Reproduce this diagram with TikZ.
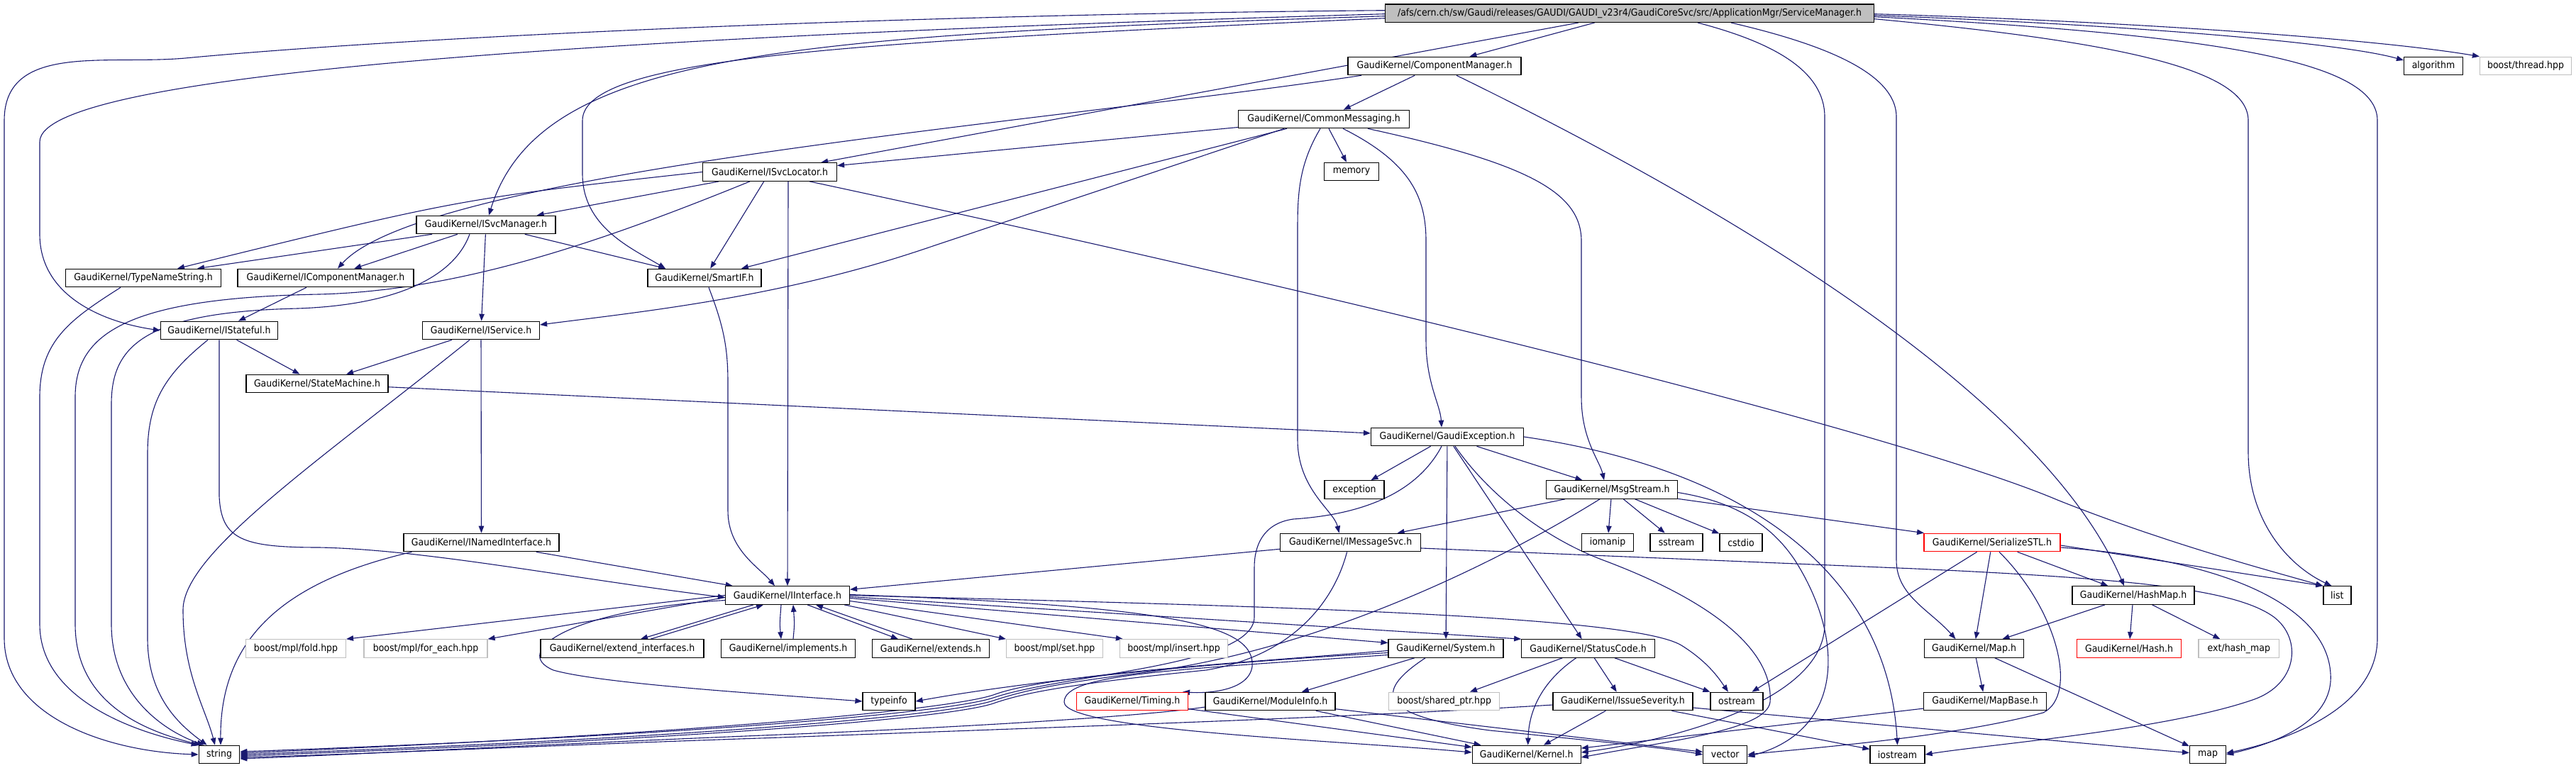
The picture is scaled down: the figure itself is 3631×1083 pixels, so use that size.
\documentclass[tikz,border=0pt]{standalone}
\usepackage{fontspec}
\newfontfamily\nf{DejaVu Sans}[FakeStretch=0.915]
\usetikzlibrary{arrows.meta}
\definecolor{edgeblue}{HTML}{191970}
\definecolor{extgray}{HTML}{BFBFBF}
\definecolor{maingray}{HTML}{BFBFBF}
\definecolor{redb}{HTML}{FF0000}
\pgfdeclarelayer{bglayer}
\pgfdeclarelayer{edgelayer}
\pgfsetlayers{bglayer,edgelayer,main}
\begin{document}
\begin{tikzpicture}[x=1pt,y=-1pt,
  box/.style={draw=black,line width=1.2pt,fill=white,minimum height=25.5pt,inner sep=0pt,font=\nf\fontsize{13.7pt}{16pt}\selectfont},
  gbox/.style={box,draw=extgray},
  rbox/.style={box,draw=redb},
  ln/.style={draw=edgeblue,line width=1.1pt,-{Triangle[length=10pt,width=7.5pt]}}]
\begin{pgfonlayer}{bglayer}
\fill[white] (0,0) rectangle (3631,1083);
\end{pgfonlayer}
\useasboundingbox (0,0) rectangle (3631,1083);
% nodes
\node[box,fill=maingray,minimum width=689pt] (main) at (2297,18.7) {/afs/cern.ch/sw/Gaudi/releases/GAUDI/GAUDI\_v23r4/GaudiCoreSvc/src/ApplicationMgr/ServiceManager.h};
\node[box,minimum width=244pt] (CM) at (2022,93) {GaudiKernel/ComponentManager.h};
\node[box,minimum width=83pt] (alg) at (3430,93) {algorithm};
\node[gbox,minimum width=129pt] (bthread) at (3560,93) {boost/thread.hpp};
\node[box,minimum width=241pt] (CMsg) at (1866,168) {GaudiKernel/CommonMessaging.h};
\node[box,minimum width=189pt] (SL) at (1085,242.5) {GaudiKernel/ISvcLocator.h};
\node[box,minimum width=77pt] (mem) at (1905,242) {memory};
\node[box,minimum width=196pt] (SM) at (685,317) {GaudiKernel/ISvcManager.h};
\node[box,minimum width=219pt] (TNS) at (202,392) {GaudiKernel/TypeNameString.h};
\node[box,minimum width=248pt] (ICM) at (459,392) {GaudiKernel/IComponentManager.h};
\node[box,minimum width=160pt] (SIF) at (993,392) {GaudiKernel/SmartIF.h};
\node[box,minimum width=165pt] (IST) at (309,466) {GaudiKernel/IStateful.h};
\node[box,minimum width=165pt] (ISV) at (678,466) {GaudiKernel/IService.h};
\node[box,minimum width=200pt] (STM) at (447,541) {GaudiKernel/StateMachine.h};
\node[box,minimum width=215pt] (GE) at (2040,616) {GaudiKernel/GaudiException.h};
\node[box,minimum width=84pt] (exc) at (1909,690.5) {exception};
\node[box,minimum width=185pt] (MS) at (2272,690.5) {GaudiKernel/MsgStream.h};
\node[box,minimum width=219pt] (INI) at (678.5,765) {GaudiKernel/INamedInterface.h};
\node[box,minimum width=198pt] (IMS) at (1903.6,765) {GaudiKernel/IMessageSvc.h};
\node[box,minimum width=73pt] (iom) at (2266,765) {iomanip};
\node[box,minimum width=74pt] (sst) at (2363,765) {sstream};
\node[box,minimum width=60pt] (cst) at (2454,765) {cstdio};
\node[rbox,minimum width=192pt] (SSTL) at (2808,765) {GaudiKernel/SerializeSTL.h};
\node[box,minimum width=175pt] (II) at (1110,839.5) {GaudiKernel/IInterface.h};
\node[box,minimum width=172pt] (HM) at (3007,839.5) {GaudiKernel/HashMap.h};
\node[box,minimum width=39pt] (list) at (3294.4,839.5) {list};
\node[gbox,minimum width=141pt] (fold) at (417,914.5) {boost/mpl/fold.hpp};
\node[gbox,minimum width=174pt] (fe) at (600,914.5) {boost/mpl/for\_each.hpp};
\node[box,minimum width=230pt] (EI) at (877,914.5) {GaudiKernel/extend\_interfaces.h};
\node[box,minimum width=189pt] (IMP) at (1111,914.5) {GaudiKernel/implements.h};
\node[box,minimum width=165pt] (EXT) at (1312,914.5) {GaudiKernel/extends.h};
\node[gbox,minimum width=136pt] (set) at (1486.5,914.5) {boost/mpl/set.hpp};
\node[gbox,minimum width=152pt] (ins) at (1654.5,914.5) {boost/mpl/insert.hpp};
\node[box,minimum width=162pt] (SYS) at (2038,914.5) {GaudiKernel/System.h};
\node[box,minimum width=187.5pt] (SC) at (2238.5,914.5) {GaudiKernel/StatusCode.h};
\node[box,minimum width=140pt] (MAP) at (2782.5,914.5) {GaudiKernel/Map.h};
\node[rbox,minimum width=147pt] (HASH) at (3001,914.5) {GaudiKernel/Hash.h};
\node[gbox,minimum width=113.5pt] (ehm) at (3155.8,914.5) {ext/hash\_map};
\node[box,minimum width=74pt] (ti) at (1253,989) {typeinfo};
\node[rbox,minimum width=157pt] (TIM) at (1596,989) {GaudiKernel/Timing.h};
\node[box,minimum width=183pt] (MI) at (1790.5,989) {GaudiKernel/ModuleInfo.h};
\node[gbox,minimum width=155.5pt] (bsp) at (2035.6,989) {boost/shared\_ptr.hpp};
\node[box,minimum width=197pt] (IS) at (2287.5,989) {GaudiKernel/IssueSeverity.h};
\node[box,minimum width=74pt] (ost) at (2448,989) {ostream};
\node[box,minimum width=173pt] (MB) at (2798,989) {GaudiKernel/MapBase.h};
\node[box,minimum width=57.5pt] (str) at (309,1064) {string};
\node[box,minimum width=153pt] (KER) at (2151.7,1064) {GaudiKernel/Kernel.h};
\node[box,minimum width=62pt] (vec) at (2431.7,1064) {vector};
\node[box,minimum width=77pt] (ios) at (2674.5,1064) {iostream};
\node[box,minimum width=51pt] (map) at (3112,1064) {map};
\begin{pgfonlayer}{edgelayer}
% edges from main
\draw[ln] (main) -- (CM);
\draw[ln] (main) -- (SL);
\draw[ln] ([yshift=-3pt]main.east) .. controls (3000,35) and (3300,60) .. ([yshift=8pt]alg.west);
\draw[ln] ([yshift=-1pt]main.east) .. controls (3000,30) and (3350,55) .. (bthread.north west);
\draw[ln] ([yshift=-8pt]main.east) .. controls (3000,60) and (3169,100) .. (3169,170) -- (3169,640) .. controls (3170,740) and (3230,800) .. ([xshift=-8pt]list.north);
\draw[ln] ([yshift=-5pt]main.east) .. controls (3150,50) and (3351,90) .. (3351,170) -- (3351,900) .. controls (3351,1000) and (3220,1045) .. ([yshift=2pt]map.east);
\draw[ln] ([xshift=143pt]main.south) .. controls (2560,60) and (2673,100) .. (2673,165) -- (2673,790) .. controls (2673,840) and (2720,860) .. ([xshift=-26pt]MAP.north);
\draw[ln] ([xshift=96pt]main.south) .. controls (2500,60) and (2572,100) .. (2572,165) -- (2572,880) .. controls (2572,990) and (2350,1045) .. ([yshift=3pt]KER.east);
\draw[ln] ([yshift=4pt]main.west) .. controls (1300,20) and (600,50) .. (261,82) .. controls (150,92) and (6,60) .. (6,170) -- (6,900) .. controls (6,1010) and (150,1060) .. (str.west);
\draw[ln] ([yshift=-1pt]main.west) .. controls (900,50) and (56,100) .. (56,200) -- (56,330) .. controls (56,420) and (150,455) .. (IST.west);
\draw[ln] ([yshift=-4pt]main.west) .. controls (1100,50) and (760,75) .. ([xshift=4pt]SM.north);
\draw[ln] ([yshift=-7pt]main.west) .. controls (1200,60) and (821,80) .. (821,170) -- (821,245) .. controls (821,320) and (890,350) .. ([xshift=-55pt]SIF.north);
% ComponentManager
\draw[ln] (CM) -- (CMsg);
\draw[ln] ([xshift=31pt]CM.south) .. controls (2450,300) and (2880,560) .. ([xshift=-13pt]HM.north);
\draw[ln] ([xshift=-103pt]CM.south) .. controls (1500,170) and (600,240) .. ([xshift=17pt]ICM.north);
% CommonMessaging
\draw[ln] (CMsg) -- (SL);
\draw[ln] (CMsg) -- (SIF);
\draw[ln] ([xshift=-56pt]CMsg.south) -- (1306,350) .. controls (1100,420) and (900,440) .. ([yshift=8pt]ISV.east);
\draw[ln] (CMsg) -- (mem);
\draw[ln] ([xshift=-5pt]CMsg.south) .. controls (1832,230) and (1829,270) .. (1829,320) -- (1829,620) .. controls (1829,690) and (1880,720) .. ([xshift=-16pt]IMS.north);
\draw[ln] ([xshift=27pt]CMsg.south) .. controls (1990,230) and (2010,280) .. (2010,340) -- (2010,480) .. controls (2010,540) and (2030,570) .. ([xshift=-8pt]GE.north);
\draw[ln] ([xshift=62pt]CMsg.south) .. controls (2150,230) and (2229,270) .. (2229,340) -- (2229,560) .. controls (2229,620) and (2255,650) .. ([xshift=-11pt]MS.north);
% ISvcLocator
\draw[ln] (SL.west) .. controls (650,280) .. ([xshift=48pt]TNS.north);
\draw[ln] (SL) -- (SM);
\draw[ln] (SL) -- (SIF);
\draw[ln] ([xshift=26pt]SL.south) -- (II.north);
\draw[ln] ([xshift=56pt]SL.south) .. controls (2000,440) and (2700,620) .. (2900,705) .. controls (3050,765) and (3200,805) .. (list.north west);
\draw[ln] ([xshift=-28pt]SL.south) .. controls (850,340) and (650,410) .. (450,415) .. controls (180,420) and (106,470) .. (106,560) -- (106,880) .. controls (106,990) and (200,1030) .. ([xshift=4pt]str.north west);
% ISvcManager
\draw[ln] ([xshift=-76pt]SM.south) -- ([xshift=76pt]TNS.north);
\draw[ln] (SM) -- (ICM);
\draw[ln] (SM) -- (SIF);
\draw[ln] (SM) -- (ISV);
\draw[ln] ([xshift=-23pt]SM.south) .. controls (640,390) and (560,430) .. (420,435) .. controls (200,440) and (157,490) .. (157,570) -- (157,880) .. controls (157,980) and (230,1030) .. ([xshift=8pt]str.north west);
% others upper
\draw[ln] (ICM) -- (IST);
\draw[ln] ([xshift=-32pt]TNS.south) .. controls (100,450) and (56,480) .. (56,560) -- (56,880) .. controls (56,990) and (200,1035) .. (str.north west);
\draw[ln] ([xshift=-16pt]IST.south) .. controls (230,530) and (208,570) .. (208,640) -- (208,900) .. controls (208,980) and (250,1020) .. ([xshift=12pt]str.north west);
\draw[ln] (IST) -- (STM);
\draw[ln] (IST.south) -- (309,700) .. controls (312,760) and (340,772) .. (450,772) .. controls (600,775) and (800,815) .. ([yshift=-3pt]II.west);
\draw[ln] (ISV) -- (STM);
\draw[ln] (ISV) -- (INI);
\draw[ln] ([xshift=-16pt]ISV.south) .. controls (450,650) and (258,780) .. (258,860) .. controls (258,950) and (290,1000) .. ([xshift=-6pt]str.north);
\draw[ln] (STM) -- (GE);
\draw[ln] ([xshift=6pt]SIF.south) .. controls (1020,460) and (1026,490) .. (1026,540) -- (1026,720) .. controls (1026,775) and (1070,800) .. ([xshift=-18pt]II.north);
\draw[ln] (INI) -- (II);
\draw[ln] ([xshift=-98pt]INI.south) .. controls (400,820) and (310,900) .. ([xshift=2pt]str.north);
% GaudiException
\draw[ln] (GE) -- (exc);
\draw[ln] (GE) -- (MS);
\draw[ln] (GE) -- (SYS);
\draw[ln] (GE) -- (SC);
\draw[ln] ([xshift=-8pt]GE.south) .. controls (2000,690) and (1930,725) .. (1823,732) .. controls (1780,738) and (1768,770) .. (1768,800) -- (1768,870) .. controls (1768,940) and (1500,950) .. (1400,984) .. controls (1340,1004) and (1000,1036) .. ([yshift=4pt]str.east);
\draw[ln] ([xshift=11pt]GE.south) .. controls (2100,700) and (2180,760) .. (2260,790) .. controls (2420,850) and (2500,920) .. (2495,990) .. controls (2490,1030) and (2350,1045) .. ([yshift=-4pt]KER.east);
\draw[ln] (GE.east) .. controls (2450,660) and (2660,800) .. (ios.north);
% MsgStream
\draw[ln] (MS) -- (IMS);
\draw[ln] (MS) -- (iom);
\draw[ln] (MS) -- (sst);
\draw[ln] (MS) -- (cst);
\draw[ln] (MS) -- (SSTL);
\draw[ln] ([yshift=-4pt]MS.east) .. controls (2430,705) and (2490,730) .. (2530,790) .. controls (2600,900) and (2600,1030) .. ([yshift=-3pt]vec.east);
\draw[ln] ([xshift=-17pt]MS.south) .. controls (2100,800) and (1850,920) .. (1600,950) .. controls (1480,965) and (1440,975) .. (1400,988) .. controls (1340,1008) and (1000,1040) .. (str.east);
% IMessageSvc
\draw[ln] (IMS) -- (II);
\draw[ln] ([yshift=-8pt]IMS.east) -- (2700,802) .. controls (3000,816) and (3150,830) .. (3205,870) .. controls (3245,900) and (3240,965) .. (3175,987) .. controls (3050,1030) and (2800,1050) .. (ios.east);
\draw[ln] ([xshift=-5pt]IMS.south) .. controls (1880,850) and (1820,925) .. (1700,945) .. controls (1500,965) and (1440,978) .. (1400,992) .. controls (1340,1012) and (1000,1042) .. ([yshift=-2pt]str.east);
% IInterface
\draw[ln] (II.west) -- (fold.north east);
\draw[ln] ([yshift=-3pt]II.west) -- (fe.north east);
\draw[ln] ([xshift=-48pt]II.south) -- ([xshift=26pt]EI.north);
\draw[ln] ([xshift=40pt]EI.north) -- ([xshift=-34pt]II.south);
\draw[ln] ([xshift=-9pt]II.south) .. controls (1099,880) .. ([xshift=-10pt]IMP.north);
\draw[ln] ([xshift=7pt]IMP.north) .. controls (1120,880) .. ([xshift=8pt]II.south);
\draw[ln] ([xshift=28pt]II.south) -- ([xshift=-46pt]EXT.north);
\draw[ln] ([xshift=-26pt]EXT.north) -- ([xshift=40pt]II.south);
\draw[ln] ([xshift=-8pt]II.south east) -- (set.north west);
\draw[ln] ([yshift=-8pt]II.east) -- ([xshift=5pt]ins.north west);
\draw[ln] ([yshift=-4pt]II.east) -- ([yshift=8pt]SYS.west);
\draw[ln] ([yshift=-2pt]II.east) -- (SC.north west);
\draw[ln] (II.east) .. controls (1800,855) and (2300,868) .. (2370,910) .. controls (2410,935) and (2425,960) .. ([xshift=-12pt]ost.north);
\draw[ln] ([yshift=-7pt]II.west) .. controls (800,860) and (720,920) .. (780,945) .. controls (850,965) and (1100,980) .. (ti.west);
\draw[ln] ([yshift=1pt]II.east) .. controls (1650,855) and (1770,880) .. (1765,940) .. controls (1760,975) and (1700,978) .. ([xshift=-8pt]TIM.north east);
% System
\draw[ln] ([yshift=-6pt]SYS.west) .. controls (1700,935) and (1450,960) .. (ti.east);
\draw[ln] (SYS) -- (MI);
\draw[ln] ([xshift=-29pt]SYS.south) .. controls (1930,980) and (1950,1010) .. (2100,1030) .. controls (2250,1045) and (2350,1055) .. (vec.west);
\draw[ln] ([yshift=-9pt]SYS.west) .. controls (1650,945) and (1500,950) .. (1500,990) .. controls (1500,1030) and (1900,1045) .. ([yshift=3pt]KER.west);
\draw[ln] ([yshift=-3pt]SYS.west) .. controls (1750,935) and (1480,950) .. (1400,980) .. controls (1340,1000) and (1000,1034) .. ([yshift=2pt]str.east);
% StatusCode
\draw[ln] (SC) -- (bsp);
\draw[ln] ([xshift=-17pt]SC.south) .. controls (2175,960) and (2155,1000) .. ([xshift=2pt]KER.north);
\draw[ln] (SC) -- (IS);
\draw[ln] (SC) -- (ost);
% IssueSeverity
\draw[ln] (IS) -- (KER);
\draw[ln] ([yshift=-5pt]IS.west) .. controls (1900,1012) and (1500,1025) .. (1100,1040) .. controls (800,1050) and (500,1064) .. ([yshift=-4pt]str.east);
\draw[ln] (IS) -- (map);
\draw[ln] (IS) -- (ios);
% ModuleInfo, Timing
\draw[ln] (MI) -- (KER);
\draw[ln] (MI) -- (vec);
\draw[ln] ([yshift=-8pt]MI.west) .. controls (1600,1012) and (1300,1028) .. (1100,1036) .. controls (800,1048) and (500,1064) .. ([yshift=-6pt]str.east);
\draw[ln] (TIM) -- (KER);
% maps
\draw[ln] (MB) -- (KER);
\draw[ln] (MAP) -- (MB);
\draw[ln] (MAP) -- (map);
\draw[ln] (HM) -- (MAP);
\draw[ln] (HM) -- (HASH);
\draw[ln] (HM) -- (ehm);
\draw[ln] (SSTL) -- (HM);
\draw[ln] (SSTL) -- (MAP);
\draw[ln] ([yshift=-4pt]SSTL.east) -- (list.north west);
\draw[ln] ([yshift=-7pt]SSTL.east) .. controls (3150,790) and (3280,860) .. (3285,950) .. controls (3290,1020) and (3200,1050) .. (map.east);
\draw[ln] ([xshift=10pt]SSTL.south) .. controls (2900,860) and (2930,980) .. (2880,1005) .. controls (2750,1040) and (2550,1055) .. (vec.east);
\draw[ln] (SSTL) -- (ost);
\end{pgfonlayer}
\end{tikzpicture}
\end{document}
